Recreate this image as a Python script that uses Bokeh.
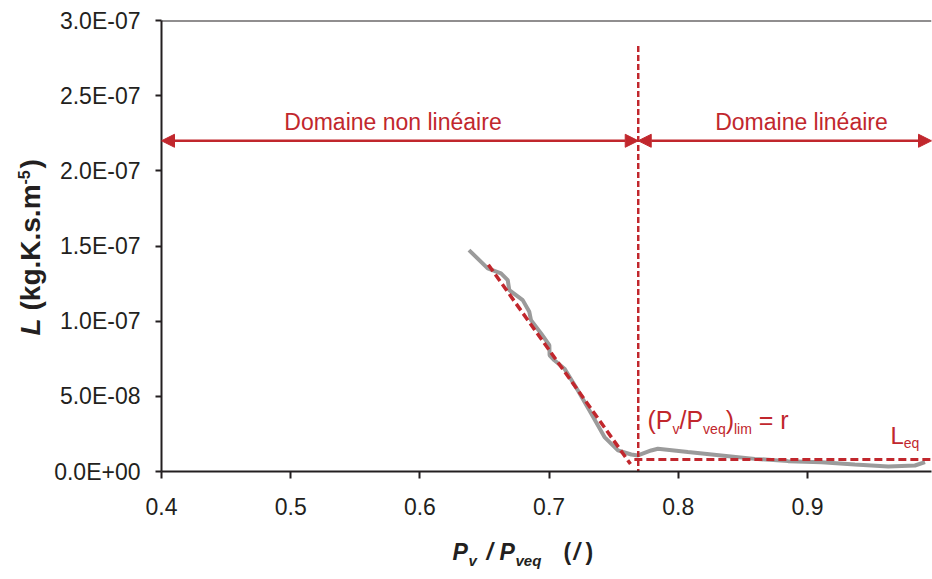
from math import pi
from bokeh.plotting import figure
from bokeh.layouts import row, column
from bokeh.models import (Label, Arrow, NormalHead, Span, FixedTicker,
                          CustomJSTickFormatter, Range1d)
from bokeh.embed import file_html
from bokeh.resources import INLINE

# ---------------- data ----------------
pv_ratio = [0.638, 0.6525, 0.6628, 0.668, 0.6692, 0.6796, 0.6847, 0.686, 0.6938,
            0.7002, 0.7004, 0.7041, 0.7119, 0.7222, 0.7326, 0.7429, 0.7533,
            0.7636, 0.7688, 0.779, 0.7842, 0.8075, 0.8333, 0.8592, 0.885,
            0.9109, 0.9367, 0.9625, 0.9832, 0.991]
L_values = [1.473e-7, 1.351e-7, 1.318e-7, 1.273e-7, 1.207e-7, 1.14e-7, 1.062e-7,
            1.007e-7, 0.918e-7, 0.84e-7, 0.773e-7, 0.74e-7, 0.684e-7, 0.54e-7,
            0.385e-7, 0.229e-7, 0.14e-7, 0.113e-7, 0.107e-7, 0.14e-7, 0.151e-7,
            0.129e-7, 0.107e-7, 0.084e-7, 0.069e-7, 0.062e-7, 0.047e-7,
            0.033e-7, 0.04e-7, 0.062e-7]
fit_x = [0.653, 0.763]
fit_L = [1.375e-7, 0.05e-7]
r_value = 0.769
r_line_L = [2.83e-7, 0.0]
L_eq = 8.0e-9
L_eq_x = [0.766, 0.996]
arrow_L = 2.2e-7
x_range_lim = [0.4, 0.996]
y_range_lim = [0.0, 3.0e-7]
x_ticks = [0.4, 0.5, 0.6, 0.7, 0.8, 0.9, 1.0]
y_ticks = [0.0, 5e-8, 1e-7, 1.5e-7, 2e-7, 2.5e-7, 3e-7]
text_domain_left = "Domaine non linéaire"
text_domain_right = "Domaine linéaire"

RED = "#C1272D"
GRAY = "#9B9B9B"
AXIS = "#231F20"
BLK = "#231F20"
FONT = "Liberation Sans"
BASE_SHIFT = 0.35  # em: correction so that the given y is the visual baseline

# Arial-compatible advance widths (per 1000 em) for composing texts
W_REG = {'(': 333, ')': 333, 'P': 667, 'v': 500, '/': 278, 'e': 556, 'q': 556,
         'l': 222, 'i': 222, 'm': 833, ' ': 278, '=': 584, 'r': 333, 'L': 556}


def text_width(s, size, table=W_REG):
    return sum(table.get(c, 556) for c in s) * size / 1000.0


# ---------------- main figure ----------------
p = figure(width=882, height=534, output_backend="svg", toolbar_location=None,
           x_range=Range1d(*x_range_lim), y_range=Range1d(*y_range_lim),
           min_border_left=111, min_border_right=1, min_border_top=20,
           min_border_bottom=63)
p.outline_line_color = None
p.xgrid.visible = False
p.ygrid.visible = False

for ax in (p.xaxis[0], p.yaxis[0]):
    ax.axis_line_color = AXIS
    ax.axis_line_width = 2
    ax.major_tick_line_color = AXIS
    ax.major_tick_line_width = 2
    ax.major_tick_in = 0
    ax.minor_tick_line_color = None
    ax.major_label_text_font = FONT
    ax.major_label_text_font_size = "23px"
    ax.major_label_text_color = BLK

p.xaxis.ticker = FixedTicker(ticks=x_ticks)
p.yaxis.ticker = FixedTicker(ticks=y_ticks)
p.xaxis.major_tick_out = 7
p.yaxis.major_tick_out = 6
p.xaxis.major_label_standoff = 19
p.yaxis.major_label_standoff = 15
p.yaxis.formatter = CustomJSTickFormatter(code="""
    const s = tick.toExponential(1);
    const parts = s.split('e');
    const n = parseInt(parts[1]);
    const a = Math.abs(n);
    return parts[0] + 'E' + (n < 0 ? '-' : '+') + (a < 10 ? '0' : '') + a;
""")
p.xaxis.formatter = CustomJSTickFormatter(code="return String(Math.round(tick*10)/10);")

# top frame line
p.add_layout(Span(location=y_range_lim[1], dimension="width", line_color=AXIS, line_width=2))

# measured curve
p.line(pv_ratio, L_values, line_color=GRAY, line_width=4)

# fitted lines
p.line(fit_x, fit_L, line_color=RED, line_width=3.5, line_dash="8 4")
p.line(L_eq_x, [L_eq, L_eq], line_color=RED, line_width=3, line_dash="8 4")
p.line([r_value, r_value], r_line_L, line_color=RED, line_width=2.5, line_dash="6 3")

# domain arrows
for xs, xe in ((x_range_lim[0], r_value), (r_value, x_range_lim[1])):
    p.add_layout(Arrow(start=NormalHead(size=13, fill_color=RED, line_color=RED),
                       end=NormalHead(size=13, fill_color=RED, line_color=RED),
                       x_start=xs, y_start=arrow_L, x_end=xe, y_end=arrow_L,
                       line_color=RED, line_width=2.5))


# page-pixel -> data helpers for text placement (frame spans x 161..931, y 20..471)
def dx(px):
    return 0.4 + (px - 161) / 1292.0


def dy(py):
    return (471 - py) / 150.33 * 1e-7


def lab(fig, text, x, y, size, color=RED, style="normal", align="left", angle=0):
    fig.add_layout(Label(x=x, y=y, text=text, text_font=FONT,
                         text_font_size=f"{size}px", text_color=color,
                         text_font_style=style, text_align=align,
                         text_baseline="alphabetic", angle=angle))


def lab_main(text, px, py, size, align="left"):
    lab(p, text, dx(px), dy(py - BASE_SHIFT * size), size, align=align)


lab_main(text_domain_left, 392.5, 130, 23, align="center")
lab_main(text_domain_right, 801, 130, 23, align="center")

# (Pv/Pveq)lim = r  composed of pieces
pieces = [("(", 25, 0), ("P", 25, 0), ("v", 14, 5), ("/P", 25, 0), ("veq", 14, 5),
          (")", 25, 0), ("lim", 14, 5), (" ", 25, None), ("= r", 25, 0)]
cx = 647
for s, size, drop in pieces:
    if drop is not None:
        lab_main(s, cx, 428 + drop, size)
    cx += text_width(s, size)

# L_eq
lab_main("L", 890, 443, 24)
lab_main("eq", 890 + text_width("L", 24), 447, 14)

# ---------------- left strip: y axis title (page x 0..50) ----------------
pl = figure(width=50, height=579, output_backend="svg", toolbar_location=None,
            x_range=Range1d(0, 50), y_range=Range1d(579, 0),
            x_axis_type=None, y_axis_type=None, min_border=0)
pl.outline_line_color = None


def lab_rot(text, base_x, start_y, size, style):
    lab(pl, text, base_x - BASE_SHIFT * size, start_y, size, BLK, style, angle=pi / 2)


lab_rot("L", 40, 335, 28, "bold italic")
lab_rot("(kg.K.s.m", 40, 310, 28, "bold")
lab_rot("-5", 29, 184, 16, "bold")
lab_rot(")", 40, 168, 28, "bold")

# ---------------- bottom strip: x axis title (page y 534..579) ----------------
pb = figure(width=882, height=45, output_backend="svg", toolbar_location=None,
            x_range=Range1d(*x_range_lim), y_range=Range1d(579, 534),
            x_axis_type=None, y_axis_type=None, min_border=0,
            min_border_left=111, min_border_right=1)
pb.outline_line_color = None


def lab_bottom(text, px, py, size, style):
    lab(pb, text, dx(px), py - BASE_SHIFT * size, size, BLK, style)


lab_bottom("P", 452, 560, 23, "bold italic")
lab_bottom("v", 468, 565, 15, "bold italic")
lab_bottom("/", 486, 560, 23, "bold italic")
lab_bottom("P", 499, 560, 23, "bold italic")
lab_bottom("veq", 515, 565, 15, "bold italic")
lab_bottom("(", 563, 560, 23, "bold")
lab_bottom("/", 573, 560, 23, "bold italic")
lab_bottom(")", 585, 560, 23, "bold")

layout = row(pl, column(p, pb, spacing=0), spacing=0)
open("out.html", "w").write(file_html(layout, INLINE))
